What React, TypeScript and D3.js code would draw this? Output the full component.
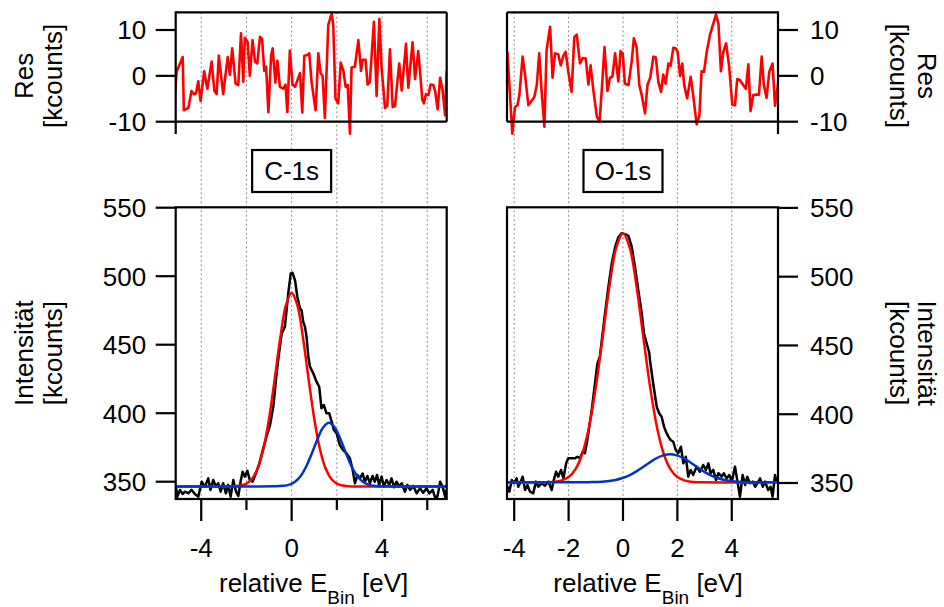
import React from 'react';
import * as d3 from 'd3';

const FONT = "'Liberation Sans', Arial, Helvetica, sans-serif";

// ---------- C-1s (left column) ----------
const cResX = [-5.16,-5.09,-4.82,-4.77,-4.57,-4.43,-4.32,-4.23,-4.13,-4.03,-3.87,-3.73,-3.54,-3.42,-3.32,-3.22,-3.03,-2.83,-2.73,-2.63,-2.48,-2.36,-2.24,-2.14,-2.07,-1.95,-1.85,-1.73,-1.62,-1.52,-1.40,-1.31,-1.21,-1.13,-1.03,-0.91,-0.84,-0.72,-0.63,-0.52,-0.37,-0.27,-0.19,-0.08,0.04,0.15,0.37,0.47,0.56,0.66,0.78,0.88,1.06,1.18,1.28,1.37,1.47,1.62,1.77,1.84,1.94,2.06,2.17,2.29,2.39,2.48,2.58,2.65,2.80,2.95,3.07,3.14,3.27,3.36,3.46,3.64,3.76,3.88,3.98,4.13,4.23,4.35,4.47,4.57,4.76,4.87,5.06,5.16,5.35,5.46,5.60,5.68,5.78,5.85,5.94,6.05,6.15,6.27,6.35,6.46,6.57,6.68,6.79,6.86];
const cResY = [-4.2,0.9,4.1,-7.5,-7.0,-3.3,-4,-3.8,-1.2,-5.5,1.0,-2.8,3.1,-3.2,-4,4.4,-4,4.1,0.2,6.0,-1.7,-2,9.3,-1.3,8.3,7.4,0,7.8,3.1,2.7,8.5,8.1,1.1,2,-7.9,4.3,6,-1.5,3.3,-2.4,-2.8,-1.9,-7.9,5.5,-1.9,-2.4,0.6,-8,4.4,4.5,4.9,-1.3,-7.5,4.9,0.6,0,-9.2,11.1,13.6,11.1,-4.9,-6,2.9,1.1,-2.4,-2,-12.6,1.8,2,7.8,1.1,3.5,3.5,-1.9,-1.3,11.8,-4.4,12.4,1.8,-7,-6.6,5.8,-6.8,-6.6,2.7,-3.2,7,-2.6,7.3,-0.7,5.4,1,-5.2,-6,-4,-4.2,-1.9,-2,-3.3,-7.3,-0.4,-3.2,-8.6,1.1];

const cDataX = [-5.12,-5.06,-4.94,-4.82,-4.72,-4.57,-4.43,-4.28,-4.13,-3.98,-3.84,-3.69,-3.59,-3.47,-3.35,-3.25,-3.14,-3.03,-2.91,-2.81,-2.70,-2.58,-2.46,-2.36,-2.26,-2.17,-2.07,-1.96,-1.85,-1.73,-1.58,-1.43,-1.28,-1.11,-0.96,-0.81,-0.66,-0.55,-0.44,-0.30,-0.15,-0.04,0.04,0.15,0.25,0.37,0.44,0.51,0.59,0.66,0.74,0.81,0.96,1.10,1.22,1.32,1.42,1.54,1.66,1.77,1.87,1.99,2.13,2.28,2.43,2.58,2.70,2.80,2.91,3.02,3.14,3.24,3.35,3.46,3.58,3.68,3.78,3.87,3.98,4.08,4.20,4.32,4.42,4.53,4.64,4.76,4.87,5.01,5.12,5.24,5.38,5.53,5.68,5.82,5.97,6.09,6.24,6.34,6.45,6.57,6.68,6.79,6.83];
const cDataY = [346.4,339,344,341,342.7,341.5,344,341,339,350,346.4,352.4,344,351.2,346.4,348.9,342.7,348.9,341.5,347.7,339,351.2,342.7,339.6,350,357.3,353.7,358,351.2,350,356.1,363.4,373,383,391,405,430,445,458.3,463,487.5,502,502.5,497,485,476.6,475,466.8,463,455.8,441,434,429,423,419.3,403.6,406,400,400,393.8,387.7,385.3,376.8,373.1,370.7,367,358.5,348.8,354.9,352.5,356,350,354.2,348.9,354.2,350,354.9,347.7,353.7,346.4,351.2,347.7,352.4,346,350,346.4,348.9,342.7,347.7,344,346.9,341.5,345.2,342,345.2,341.5,344,339,339,350,346.4,339,344];

const cRedX = [-5.13,-3,-2.5,-2.25,-2,-1.75,-1.5,-1.25,-1,-0.75,-0.5,-0.25,0,0.25,0.5,0.75,1,1.25,1.5,1.75,2,2.25,2.5,3,6.86];
const cRedY = [346.5,346.5,346.7,347.2,348.6,352.2,359.8,373.9,396.0,424.9,455.3,479.0,488.0,479.0,455.3,424.9,396.0,373.9,359.8,352.2,348.6,347.2,346.7,346.5,346.5];

const cBlueX = [-5.13,-0.85,-0.35,-0.10,0.15,0.40,0.65,0.90,1.15,1.40,1.65,1.90,2.15,2.40,2.65,2.90,3.15,3.40,3.65,4.15,6.86];
const cBlueY = [346.5,346.6,347.0,347.9,350.0,354.2,361.3,370.9,381.4,389.8,393.0,389.8,381.4,370.9,361.3,354.2,350.0,347.9,347.0,346.6,346.5];

// ---------- O-1s (right column) ----------
const oResX = [-4.25,-4.07,-3.97,-3.88,-3.81,-3.69,-3.60,-3.48,-3.39,-3.26,-3.17,-3.08,-2.99,-2.89,-2.81,-2.68,-2.59,-2.50,-2.38,-2.29,-2.19,-2.11,-2.01,-1.89,-1.79,-1.70,-1.58,-1.48,-1.37,-1.27,-1.19,-1.09,-0.96,-0.86,-0.78,-0.68,-0.57,-0.48,-0.39,-0.29,-0.17,-0.09,-0.01,0.07,0.20,0.32,0.40,0.50,0.60,0.69,0.81,0.90,1.00,1.12,1.21,1.30,1.40,1.48,1.57,1.67,1.75,1.85,1.94,2.01,2.10,2.18,2.25,2.36,2.49,2.58,2.71,2.81,2.89,2.98,3.08,3.20,3.32,3.42,3.51,3.60,3.69,3.79,3.90,4.02,4.12,4.20,4.30,4.42,4.52,4.61,4.69,4.79,4.89,5.00,5.10,5.18,5.28,5.38,5.50,5.59,5.71];
const oResY = [5.25,-12.6,-6.8,-6.4,-4.2,4.2,0.15,-6.4,-5.7,-4.6,-2.0,4.9,-3.5,-11.1,5.6,10.7,-0.4,4.9,4.7,2.3,4.4,5.25,0.9,-3.5,8.5,9.0,2.7,3.9,3.8,-1.9,2.3,-3.1,-8.9,-10.0,-3.1,6.3,-3.3,-0.4,-0.2,4.9,-1.2,5.4,4.9,-1.7,-2.0,3.1,8.2,6.3,-2.0,-4.2,-8.2,-2.0,-0.4,4.2,4.0,-1.3,-3.5,0.3,-1.7,2.7,2.2,6.1,6.0,5.25,0,2.7,-2.0,-4.9,-0.2,-4.2,-10.6,-8.6,1.0,0.9,5.25,9.0,11.4,13.4,11.4,1.0,5.25,7.1,2.3,-6.3,-6.4,-0.7,-0.9,-2.0,-2.8,2.5,-7.7,-4.2,-4.1,-4.1,4.2,-2.0,-4.8,0.9,2.7,-6.5,-1.3];

const oDataX = [-4.25,-4.18,-4.09,-4.01,-3.91,-3.85,-3.76,-3.69,-3.60,-3.51,-3.42,-3.30,-3.20,-3.11,-2.99,-2.87,-2.74,-2.62,-2.56,-2.46,-2.38,-2.28,-2.19,-2.09,-2.01,-1.89,-1.76,-1.68,-1.58,-1.48,-1.40,-1.31,-1.24,-1.15,-1.03,-0.94,-0.85,-0.66,-0.54,-0.41,-0.29,-0.17,-0.05,0.07,0.20,0.32,0.44,0.56,0.69,0.77,0.87,0.97,0.99,1.11,1.24,1.33,1.42,1.51,1.58,1.67,1.75,1.85,1.94,2.03,2.13,2.22,2.31,2.40,2.49,2.58,2.71,2.83,2.95,3.05,3.14,3.22,3.32,3.42,3.51,3.63,3.71,3.81,3.91,4.00,4.12,4.21,4.30,4.40,4.49,4.57,4.67,4.77,4.86,4.94,5.04,5.14,5.22,5.34,5.43,5.50,5.59,5.65];
const oDataY = [347.3,343.7,352.2,349.8,353.4,347.3,351,354.6,344.9,348.5,343.7,342.5,351,347.3,349.8,348,351,344.9,351,358.2,354.6,359.5,353.4,364.3,368,368,368,369.1,368,372.8,371.6,381.3,391,403,422.5,437,441.9,473.4,492,510,521.4,528.7,531.6,530.9,529.7,521.8,507.3,490.4,473.4,458.9,451.6,444.3,439.5,422.5,405.5,400.7,398.2,391,387.3,383.7,381.3,380,374,371.6,376.4,364.3,369.1,354.6,359.5,355.8,361.9,358.2,363.1,359.5,364.3,357.1,359.5,352.2,357.1,354.6,357.1,353.4,355.8,351,361.9,351,340,355.8,348.5,354.6,349.8,351,347.3,349.8,353.4,347.3,351,344.9,347.3,340,355.8,351];

const oRedX = [-4.27,-3,-2.5,-2.25,-2,-1.75,-1.5,-1.25,-1,-0.75,-0.5,-0.25,0,0.25,0.5,0.75,1,1.25,1.5,1.75,2,2.25,2.5,3,5.70];
const oRedY = [350.5,350.5,350.9,351.9,354.3,359.9,371.1,390.6,419.5,455.7,492.8,520.9,531.5,520.9,492.8,455.7,419.5,390.6,371.1,359.9,354.3,351.9,350.9,350.5,350.5];

const oBlueX = [-4.27,-1.27,-0.77,-0.27,-0.02,0.23,0.48,0.73,0.98,1.23,1.48,1.73,1.98,2.23,2.48,2.73,2.98,3.23,3.48,3.73,4.23,4.73,5.70];
const oBlueY = [350.5,350.6,350.9,352.2,353.6,355.6,358.3,361.5,364.9,368.0,370.1,370.9,370.1,368.0,364.9,361.5,358.3,355.6,353.6,352.2,350.9,350.6,350.5];

// ---------- ticks / labels ----------
const mainTicks = [350, 400, 450, 500, 550];
const resTicks = [10, 0, -10];
const cGrid = [-4, -2, 0, 2, 4, 6];
const cMajor = [-4, 0, 4];
const cMinor = [-2, 2, 6];
const oGrid = [-4, -2, 0, 2, 4];
const oMajor = [-4, -2, 0, 2, 4];
const oMinor: number[] = [];

type ColProps = {
  id: string;
  side: 'left' | 'right';
  label: string;
  xDomain: [number, number];
  xRange: [number, number];
  mainRange: [number, number];
  labelShift: number;
  resX: number[]; resY: number[];
  dataX: number[]; dataY: number[];
  redX: number[]; redY: number[];
  blueX: number[]; blueY: number[];
  grid: number[]; major: number[]; minor: number[];
};

const RES_TOP = 12.3;
const RES_BOTTOM = 121.7;
const RES_AXIS_END = 134;
const MAIN_TOP = 207.3;
const MAIN_BOTTOM = 499;

function zip(xs: number[], ys: number[]): [number, number][] {
  return xs.map((x, i) => [x, ys[i]] as [number, number]);
}

function Column(p: ColProps) {
  const x = d3.scaleLinear().domain(p.xDomain).range(p.xRange);
  const yMain = d3.scaleLinear().domain([350, 550]).range(p.mainRange);
  const yRes = d3.scaleLinear().domain([-10, 10]).range([121.7, 30]);
  const [x0, x1] = p.xRange;

  const lineMain = d3.line<[number, number]>().x(d => x(d[0])).y(d => yMain(d[1]));
  const fitLine = d3.line<[number, number]>().x(d => x(d[0])).y(d => yMain(d[1])).curve(d3.curveCatmullRom.alpha(0.5));
  const lineRes = d3.line<[number, number]>().x(d => x(d[0])).y(d => yRes(d[1]));

  const axisX = p.side === 'left' ? x0 : x1;
  const dir = p.side === 'left' ? -1 : 1;
  const tickLen = 20;
  const labelX = p.side === 'left' ? axisX - 29.5 : axisX + 32;
  const anchor = p.side === 'left' ? 'end' : 'start';

  const boxW = 79, boxH = 42;
  const bx = x(0);

  const ax1 = p.side === 'left' ? 33 : 918;
  const ax2 = p.side === 'left' ? 62 : 890;
  const rot = p.side === 'left' ? -90 : 90;
  const resMid = yRes(0);
  const mainMid = (MAIN_TOP + MAIN_BOTTOM) / 2;
  const SW = 2.2;

  return (
    <g>
      <defs>
        <clipPath id={`clipMain-${p.id}`}>
          <rect x={x0} y={MAIN_TOP} width={x1 - x0} height={MAIN_BOTTOM - MAIN_TOP} />
        </clipPath>
        <clipPath id={`clipRes-${p.id}`}>
          <rect x={x0} y={RES_TOP} width={x1 - x0} height={RES_AXIS_END + 1 - RES_TOP} />
        </clipPath>
      </defs>

      {/* grid lines */}
      {p.grid.map(g => (
        <line key={`g${g}`} x1={x(g)} x2={x(g)} y1={RES_TOP} y2={MAIN_BOTTOM}
          stroke="#8c8c8c" strokeWidth={1} strokeDasharray="2,2.5" />
      ))}

      {/* residual trace */}
      <path d={lineRes(zip(p.resX, p.resY)) || ''} fill="none" stroke="#ff0000" strokeWidth={2.6}
        strokeLinejoin="round" clipPath={`url(#clipRes-${p.id})`} />

      {/* residual frame */}
      <line x1={x0} x2={x1} y1={RES_TOP} y2={RES_TOP} stroke="#000" strokeWidth={SW} />
      <line x1={x0} x2={x1} y1={RES_BOTTOM} y2={RES_BOTTOM} stroke="#000" strokeWidth={SW} />
      <line x1={p.side === 'left' ? x1 : x0} x2={p.side === 'left' ? x1 : x0} y1={RES_TOP} y2={RES_BOTTOM} stroke="#000" strokeWidth={SW} />
      <line x1={axisX} x2={axisX} y1={RES_TOP - 1} y2={RES_AXIS_END} stroke="#000" strokeWidth={SW} />
      {resTicks.map(t => (
        <g key={`rt${t}`}>
          <line x1={axisX} x2={axisX + dir * tickLen} y1={yRes(t)} y2={yRes(t)} stroke="#000" strokeWidth={SW} />
          <text x={labelX} y={yRes(t)} dy="0.36em" textAnchor={anchor} fontSize={26} fontFamily={FONT}>{String(t)}</text>
        </g>
      ))}

      {/* main traces */}
      <g clipPath={`url(#clipMain-${p.id})`}>
        <path d={lineMain(zip(p.dataX, p.dataY)) || ''} fill="none" stroke="#000" strokeWidth={2.5} strokeLinejoin="round" />
        <path d={fitLine(zip(p.redX, p.redY)) || ''} fill="none" stroke="#ff0000" strokeWidth={2.5} />
        <path d={fitLine(zip(p.blueX, p.blueY)) || ''} fill="none" stroke="#0033cc" strokeWidth={2.5} />
      </g>

      {/* main frame */}
      <rect x={x0} y={MAIN_TOP} width={x1 - x0} height={MAIN_BOTTOM - MAIN_TOP} fill="none" stroke="#000" strokeWidth={SW} />
      {mainTicks.map(t => (
        <g key={`mt${t}`}>
          <line x1={axisX} x2={axisX + dir * tickLen} y1={yMain(t)} y2={yMain(t)} stroke="#000" strokeWidth={SW} />
          <text x={labelX} y={yMain(t)} dy="0.36em" textAnchor={anchor} fontSize={26} fontFamily={FONT}>{String(t)}</text>
        </g>
      ))}

      {/* bottom axis */}
      {p.major.map(t => (
        <g key={`xm${t}`}>
          <line x1={x(t)} x2={x(t)} y1={MAIN_BOTTOM} y2={MAIN_BOTTOM + 22} stroke="#000" strokeWidth={SW} />
          <text x={x(t)} y={557} textAnchor="middle" fontSize={26} fontFamily={FONT}>{String(t)}</text>
        </g>
      ))}
      {p.minor.map(t => (
        <line key={`xn${t}`} x1={x(t)} x2={x(t)} y1={MAIN_BOTTOM} y2={MAIN_BOTTOM + 11} stroke="#000" strokeWidth={SW} />
      ))}
      <text x={x(0) + p.labelShift} y={591.5} textAnchor="middle" fontSize={26} fontFamily={FONT}>
        relative E<tspan fontSize={19} dy={12}>Bin</tspan><tspan dy={-12}> [eV]</tspan>
      </text>

      {/* peak label box */}
      <rect x={bx - boxW / 2} y={150} width={boxW} height={boxH} fill="#fff" stroke="#000" strokeWidth={SW} />
      <text x={bx} y={171} dy="0.36em" textAnchor="middle" fontSize={26} fontFamily={FONT}>{p.label}</text>

      {/* axis titles */}
      <text transform={`translate(${ax1},${resMid}) rotate(${rot})`} textAnchor="middle" fontSize={26} fontFamily={FONT}>Res</text>
      <text transform={`translate(${ax2},${resMid}) rotate(${rot})`} textAnchor="middle" fontSize={26} fontFamily={FONT}>[kcounts]</text>
      <text transform={`translate(${ax1},${mainMid}) rotate(${rot})`} textAnchor="middle" fontSize={26} fontFamily={FONT}>Intensität</text>
      <text transform={`translate(${ax2},${mainMid}) rotate(${rot})`} textAnchor="middle" fontSize={26} fontFamily={FONT}>[kcounts]</text>
    </g>
  );
}

export default function App() {
  return (
    <svg width={944} height={607} style={{ position: 'absolute', left: 0, top: 0, background: '#fff' }}
      xmlns="http://www.w3.org/2000/svg">
      <rect x={0} y={0} width={944} height={607} fill="#fff" />
      <Column id="c" side="left" label="C-1s"
        xDomain={[-5.13, 6.86]} xRange={[175.7, 446.7]} mainRange={[481.7, 207.7]} labelShift={22}
        resX={cResX} resY={cResY} dataX={cDataX} dataY={cDataY}
        redX={cRedX} redY={cRedY} blueX={cBlueX} blueY={cBlueY}
        grid={cGrid} major={cMajor} minor={cMinor} />
      <Column id="o" side="right" label="O-1s"
        xDomain={[-4.265, 5.70]} xRange={[507, 778]} mainRange={[483, 207.9]} labelShift={25}
        resX={oResX} resY={oResY} dataX={oDataX} dataY={oDataY}
        redX={oRedX} redY={oRedY} blueX={oBlueX} blueY={oBlueY}
        grid={oGrid} major={oMajor} minor={oMinor} />
    </svg>
  );
}
